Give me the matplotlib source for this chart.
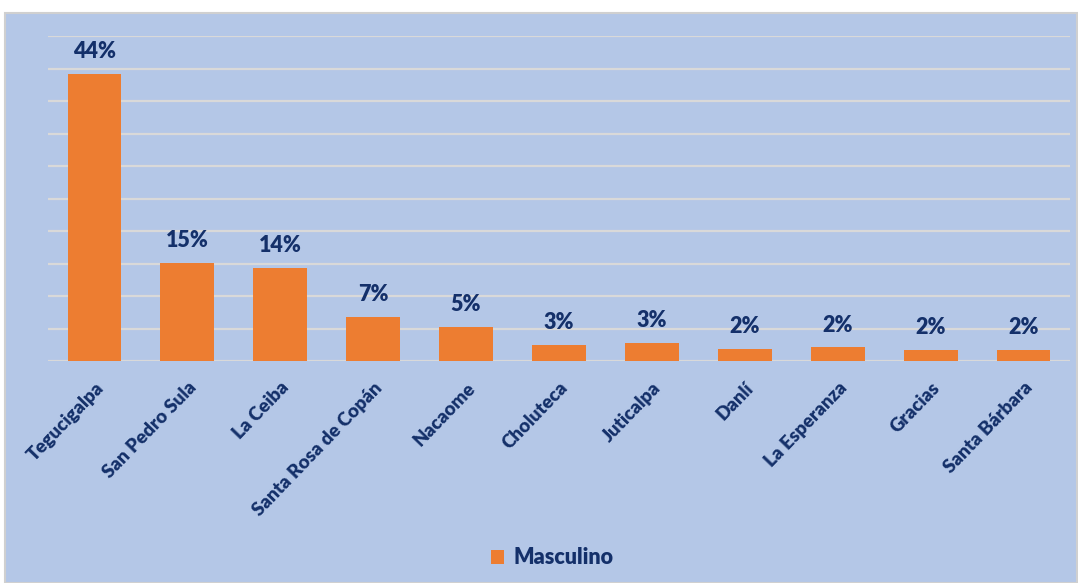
import matplotlib.pyplot as plt
from matplotlib.patches import Rectangle
import numpy as np

ciudades = ["Tegucigalpa", "San Pedro Sula", "La Ceiba", "Santa Rosa de Copán",
            "Nacaome", "Choluteca", "Juticalpa", "Danlí", "La Esperanza",
            "Gracias", "Santa Bárbara"]
masculino = [44.2, 15.1, 14.3, 6.8, 5.2, 2.5, 2.8, 1.8, 2.1, 1.7, 1.7]
etiquetas = ["44%", "15%", "14%", "7%", "5%", "3%", "3%", "2%", "2%", "2%", "2%"]

azul = "#B4C7E7"
naranja = "#ED7D31"
texto = "#14306A"

plt.rcParams['font.family'] = ['Lato', 'DejaVu Sans']

W, H = 1078, 583
fig = plt.figure(figsize=(W / 100, H / 100), dpi=100)
fig.patch.set_facecolor("white")
fondo = Rectangle((5 / W, 0), 1 - 6 / W, 1 - 13 / H, transform=fig.transFigure,
                  facecolor=azul, edgecolor="#D0D0D0", linewidth=1.5, zorder=-10)
fig.add_artist(fondo)

ax = fig.add_axes([48 / W, 1 - 361 / H, (1070 - 48) / W, (361 - 36) / H])
ax.set_facecolor("none")
ax.set_zorder(5)

x = np.arange(len(ciudades))
bars = ax.bar(x, masculino, width=0.58, color=naranja, zorder=3, label="Masculino")

for xi, v, lab in zip(x, masculino, etiquetas):
    ax.annotate(lab, (xi, v), xytext=(0, 8.5), textcoords="offset points",
                ha="center", va="bottom", fontsize=15.5, fontweight="heavy",
                color=texto)

ax.set_xlim(-0.5, len(ciudades) - 0.5)
ax.set_ylim(0, 50)
ax.set_yticks(np.arange(0, 51, 5))
ax.yaxis.grid(True, color="#D9D9D9", linewidth=1.6, zorder=0)
ax.set_axisbelow(True)
ax.tick_params(axis="y", left=False, labelleft=False)
ax.tick_params(axis="x", length=0, pad=13)
ax.set_xticks(x)
ax.set_xticklabels(ciudades, rotation=46, ha="right", rotation_mode="anchor",
                   fontsize=13.5, fontweight="heavy", color=texto)
for s in ax.spines.values():
    s.set_visible(False)

leg = fig.legend(handles=[bars], labels=["Masculino"], loc="center",
                 bbox_to_anchor=(552 / W, 1 - 558 / H), frameon=False,
                 handlelength=0.6, handleheight=0.6, handletextpad=0.45,
                 prop={"size": 15.5, "weight": "heavy"})
for t in leg.get_texts():
    t.set_color(texto)

fig.savefig("out.png", dpi=100)
